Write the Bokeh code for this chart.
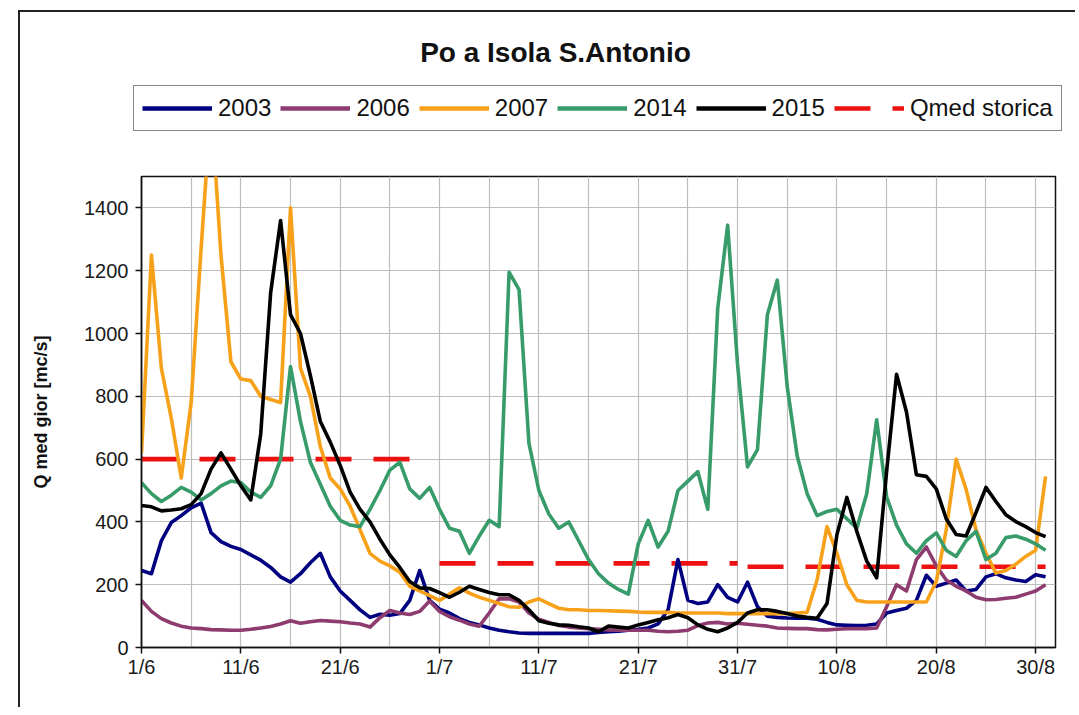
from bokeh.plotting import figure
from bokeh.models import Range1d, FixedTicker, Legend, LegendItem, Label
from bokeh.layouts import column
from bokeh.embed import file_html
from bokeh.resources import INLINE

# ---------------- data ----------------
days = list(range(92))  # 0 = 1 June ... 91 = 31 August
tick_days = [0, 10, 20, 30, 40, 50, 60, 70, 80, 90]
tick_labels = ["1/6", "11/6", "21/6", "1/7", "11/7", "21/7", "31/7", "10/8", "20/8", "30/8"]
grid_days = list(range(0, 91, 5))
y_ticks = [0, 200, 400, 600, 800, 1000, 1200, 1400]

q2003 = [245, 235, 340, 398, 420, 445, 460, 366, 337, 322,
         312, 295, 278, 255, 225, 208, 235, 270, 300, 225,
         180, 150, 120, 96, 106, 103, 108, 150, 245, 150,
         122, 110, 92, 80, 72, 62, 55, 50, 46, 45,
         45, 45, 45, 45, 45, 45, 48, 50, 52, 55,
         58, 62, 75, 120, 280, 150, 140, 145, 200, 160,
         145, 208, 130, 100, 96, 94, 93, 93, 90, 80,
         72, 71, 70, 71, 75, 110, 118, 125, 150, 230,
         195, 205, 215, 180, 185, 225, 235, 222, 215, 210,
         232, 225]

q2006 = [150, 115, 92, 78, 68, 62, 60, 57, 56, 55,
         55, 58, 62, 67, 75, 85, 77, 82, 86, 84,
         82, 78, 75, 65, 95, 118, 110, 105, 115, 148,
         115, 98, 87, 75, 68, 110, 155, 155, 145, 110,
         90, 80, 70, 65, 62, 60, 58, 56, 55, 55,
         55, 55, 52, 50, 52, 55, 70, 78, 80, 75,
         77, 74, 71, 68, 62, 61, 60, 60, 57, 56,
         58, 60, 60, 60, 62, 130, 200, 180, 280, 320,
         260, 215, 195, 180, 160, 152, 153, 157, 160, 170,
         180, 200]

q2007 = [620, 1250, 890, 730, 540, 780, 1270, 1730, 1250, 910,
         855, 850, 800, 790, 780, 1400, 890, 800, 640, 540,
         505, 450, 375, 300, 275, 260, 240, 195, 180, 165,
         150, 170, 190, 173, 160, 150, 140, 130, 128, 145,
         155, 140, 125, 120, 120, 118, 118, 117, 116, 115,
         113, 112, 112, 112, 110, 110, 110, 110, 110, 108,
         108, 108, 108, 108, 108, 108, 110, 112, 215, 385,
         300, 200, 150, 145, 145, 145, 145, 145, 145, 145,
         210, 375, 600, 504, 375, 300, 237, 245, 265, 290,
         310, 545]

q2014 = [525, 490, 465, 485, 510, 495, 470, 490, 515, 530,
         525, 495, 478, 515, 600, 895, 720, 590, 520, 450,
         405, 390, 385, 440, 500, 565, 590, 505, 475, 510,
         440, 380, 370, 300, 355, 405, 385, 1195, 1140, 650,
         500, 425, 380, 400, 340, 280, 235, 205, 185, 170,
         330, 405, 320, 370, 500, 530, 560, 440, 1080, 1345,
         900, 575, 630, 1060, 1170, 830, 610, 490, 420, 433,
         440, 410, 380, 490, 725, 480, 390, 330, 300, 340,
         365, 310, 290, 340, 370, 280, 300, 350, 355, 345,
         330, 310]

q2015 = [452, 448, 435, 438, 442, 455, 490, 568, 620, 568,
         515, 470, 680, 1130, 1360, 1060, 1000, 866, 720, 654,
         580, 495, 440, 400, 345, 295, 255, 210, 190, 188,
         175, 160, 176, 195, 185, 175, 168, 168, 150, 120,
         85, 77, 72, 71, 66, 62, 50, 68, 65, 62,
         72, 80, 88, 95, 105, 95, 72, 58, 50, 62,
         80, 110, 120, 120, 115, 108, 100, 96, 93, 140,
         360, 478, 370, 275, 222, 560, 870, 750, 550, 545,
         505, 410, 360, 355, 430, 510, 465, 423, 401, 385,
         366, 353]

# historical mean flow, one value per month (June, July, August)
month_first_day = [0, 30, 61]
month_last_day = [29, 60, 91]
qmed_values = [600, 268, 257]

series_names = ["2003", "2006", "2007", "2014", "2015"]
series_values = [q2003, q2006, q2007, q2014, q2015]
series_colors = ["#000080", "#8E3B70", "#F7A11A", "#379B6A", "#000000"]
qmed_name = "Qmed storica"
qmed_color = "#EE1111"
chart_title = "Po a Isola S.Antonio"
y_label = "Q med gior [mc/s]"

FONT = "Liberation Sans"
LW = 3.6
QLW = 4.6
QDASH = "36 22"

qmed_xs = [[a, b] for a, b in zip(month_first_day, month_last_day)]
qmed_ys = [[v, v] for v in qmed_values]

# ---------------- header (title + legend) ----------------
HW, HH = 1055, 154
header = figure(width=HW, height=HH, output_backend="svg", toolbar_location=None,
                x_range=Range1d(0, HW), y_range=Range1d(0, HH), title=None,
                x_axis_location=None, y_axis_location=None,
                min_border_left=0, min_border_right=0, min_border_top=0, min_border_bottom=0)
try:
    header.frame_align = False
except Exception:
    pass
header.outline_line_color = None
header.grid.grid_line_color = None
header.background_fill_color = "white"
header.border_fill_color = "white"

header.add_layout(Label(x=535, y=114, text=chart_title, text_font=FONT,
                        text_font_size="28px", text_font_style="bold", text_color="#111111",
                        text_align="center", text_baseline="middle"))

# legend keys: same series, on a range where they stay out of sight
header.extra_y_ranges = {"keys": Range1d(100000, 100001)}
key_rends = [header.line(days, vals, line_color=c, line_width=LW + 0.8, y_range_name="keys")
             for vals, c in zip(series_values, series_colors)]
key_q = header.multi_line(xs=qmed_xs, ys=qmed_ys, line_color=qmed_color, line_width=QLW,
                          line_dash=QDASH, y_range_name="keys")
items = [LegendItem(label=n, renderers=[r]) for n, r in zip(series_names, key_rends)]
items.append(LegendItem(label=qmed_name, renderers=[key_q]))

legend = Legend(items=items, orientation="horizontal", location=(113, 35),
                glyph_width=70, glyph_height=20, label_standoff=6, spacing=9,
                padding=8, margin=0, label_height=23,
                label_text_font=FONT, label_text_font_size="24px", label_text_color="#111111",
                border_line_color="#111111", border_line_width=1.5,
                background_fill_color="white")
header.add_layout(legend, "center")

# ---------------- main chart ----------------
p = figure(width=1055, height=541, output_backend="svg", toolbar_location=None,
           x_range=Range1d(0, 92), y_range=Range1d(0, 1500), title=None,
           min_border_left=121, min_border_right=20, min_border_top=10, min_border_bottom=60)
p.background_fill_color = "white"
p.border_fill_color = "white"
p.outline_line_color = "#111111"
p.outline_line_width = 1.5

p.xgrid.ticker = FixedTicker(ticks=grid_days)
p.ygrid.ticker = FixedTicker(ticks=y_ticks)
for g in (p.xgrid, p.ygrid):
    g.grid_line_color = "#BDBDBD"
    g.grid_line_width = 1.2

p.xaxis.ticker = FixedTicker(ticks=tick_days)
p.xaxis.major_label_overrides = {d: lab for d, lab in zip(tick_days, tick_labels)}
p.yaxis.ticker = FixedTicker(ticks=y_ticks)
for ax in (p.xaxis, p.yaxis):
    ax.axis_line_color = "#111111"
    ax.axis_line_width = 1.5
    ax.major_tick_line_color = "#111111"
    ax.major_tick_line_width = 1.5
    ax.major_tick_out = 6
    ax.major_tick_in = 0
    ax.minor_tick_line_color = None
    ax.major_label_text_font = FONT
    ax.major_label_text_font_size = "20px"
    ax.major_label_text_color = "#1a1a1a"
p.xaxis.major_label_standoff = 2
p.yaxis.major_label_standoff = 7
p.yaxis.axis_label = y_label
p.yaxis.axis_label_text_font = FONT
p.yaxis.axis_label_text_font_style = "bold"
p.yaxis.axis_label_text_font_size = "18px"
p.yaxis.axis_label_text_color = "#111111"
p.yaxis.axis_label_standoff = 30

p.multi_line(xs=qmed_xs, ys=qmed_ys, line_color=qmed_color, line_width=QLW, line_dash=QDASH)

for vals, col in zip(series_values, series_colors):
    p.line(days, vals, line_color=col, line_width=LW, line_join="round")

layout = column(header, p, spacing=0)
layout.margin = (10, 0, 0, 18)
layout.styles = {"border-left": "2px solid #222222", "border-top": "2px solid #222222",
                 "border-right": "0px none", "border-bottom": "0px none",
                 "background-color": "white"}

open("out.html", "w").write(file_html(layout, INLINE))
